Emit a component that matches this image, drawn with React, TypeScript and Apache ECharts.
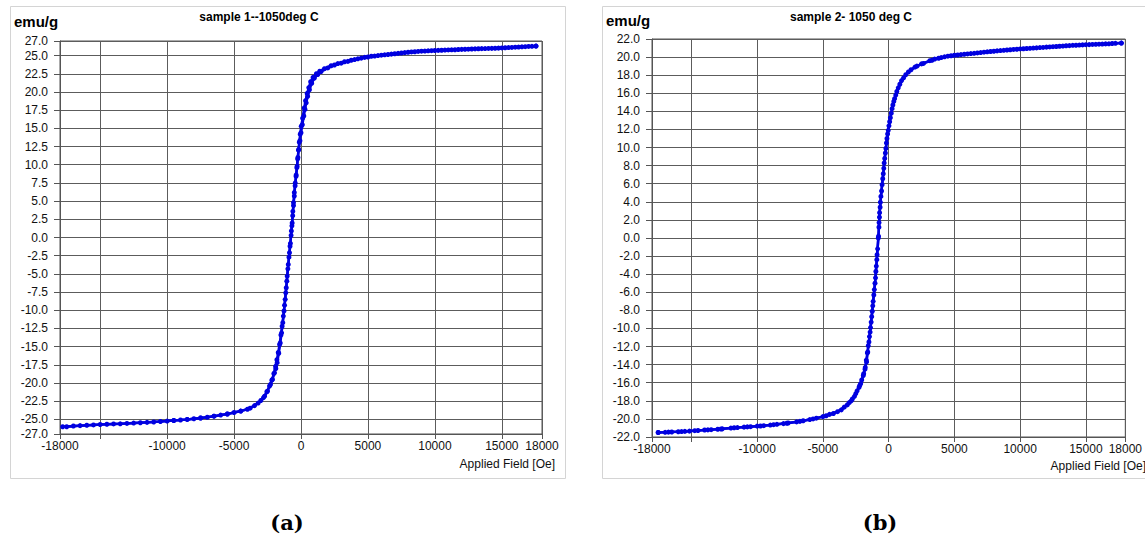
import React, { useEffect, useRef } from "react";
import * as echarts from "echarts";

// ---------- Data ----------
// Sample 1 (1050 deg C) – descending branch
const s1DownField = [17550, 17000, 16500, 16000, 15500, 15000, 14500, 14000, 13500, 13000, 12500, 12000, 11500, 11000, 10500, 10000, 9500, 9000, 8500, 8000, 7500, 7000, 6500, 6000, 5500, 5000, 4500, 4000, 3500, 3000, 2500, 2000, 1500, 1250, 1000, 800, 630, 500, 390, 300, 210, 100, 0, -80, -170, -230, -290, -360, -430, -500, -560, -610, -660, -720, -790, -860, -950, -1030, -1100, -1180, -1270, -1360, -1450, -1550, -1660, -1780, -1880, -1980, -2130, -2280, -2500, -2720, -3000, -3470, -4000, -4500, -5000, -5500, -6000, -6500, -7000, -7500, -8000, -8500, -9000, -9500, -10000, -11000, -12000, -13000, -14000, -15000, -16000, -17000, -17800];
const s1DownMoment = [26.3, 26.25, 26.2, 26.15, 26.1, 26.05, 26.0, 25.98, 25.95, 25.92, 25.88, 25.85, 25.8, 25.77, 25.73, 25.7, 25.65, 25.6, 25.52, 25.45, 25.35, 25.25, 25.15, 25.05, 24.93, 24.8, 24.65, 24.45, 24.2, 23.95, 23.7, 23.3, 22.8, 22.4, 21.9, 21.2, 20.3, 19.4, 18.5, 17.6, 16.7, 15.5, 14.4, 13.3, 12.1, 11.0, 9.8, 8.6, 7.5, 6.2, 4.8, 3.6, 2.0, 0.9, -0.8, -2.1, -3.7, -5.3, -6.9, -8.5, -10.1, -11.7, -13.1, -14.5, -15.9, -17.2, -18.0, -18.6, -19.5, -20.2, -21.1, -21.8, -22.4, -23.1, -23.6, -23.85, -24.05, -24.25, -24.4, -24.55, -24.7, -24.8, -24.9, -25.0, -25.08, -25.15, -25.22, -25.35, -25.45, -25.55, -25.62, -25.7, -25.8, -25.9, -26.0];
// Sample 1 – ascending branch
const s1UpField = [-17500, -16500, -15500, -14500, -13500, -12500, -11500, -10500, -9500, -8500, -7500, -6500, -5500, -4500, -3800, -3200, -2800, -2550, -2350, -2180, -2030, -1900, -1800, -1700, -1600, -1500, -1410, -1320, -1230, -1140, -1060, -980, -900, -820, -740, -680, -620, -560, -500, -440, -370, -310, -250, -190, -130, -60, 20, 120, 240, 340, 460, 580, 720, 900, 1150, 1400, 1750, 2250, 2750, 3250, 3750, 4250, 4750, 5250, 5750, 6250, 6750, 7250, 7750, 8250, 8750, 9250, 9750, 10250, 10750, 11250, 11750, 12250, 12750, 13250, 13750, 14250, 14750, 15250, 15750, 16250, 16750, 17250, 17550];
const s1UpMoment = [-26.0, -25.85, -25.75, -25.66, -25.6, -25.5, -25.4, -25.28, -25.15, -25.0, -24.8, -24.55, -24.25, -23.85, -23.45, -22.75, -22.0, -21.2, -20.4, -19.6, -18.7, -17.7, -16.8, -15.8, -14.7, -13.4, -12.2, -10.8, -9.3, -7.6, -6.0, -4.3, -2.7, -1.2, 0.3, 1.6, 3.0, 4.4, 5.7, 7.1, 8.4, 9.6, 10.8, 12.0, 13.1, 14.2, 15.3, 16.4, 17.8, 18.8, 19.8, 20.6, 21.4, 22.0, 22.5, 22.85, 23.2, 23.6, 23.9, 24.15, 24.35, 24.55, 24.75, 24.9, 25.0, 25.1, 25.2, 25.3, 25.4, 25.5, 25.57, 25.62, 25.67, 25.71, 25.75, 25.79, 25.83, 25.87, 25.9, 25.93, 25.96, 25.99, 26.02, 26.07, 26.12, 26.17, 26.22, 26.27, 26.3];

// Sample 2 (1050 deg C) – descending branch
const s2DownField = [17700, 17000, 16500, 16000, 15500, 15000, 14500, 14000, 13500, 13000, 12500, 12000, 11500, 11000, 10500, 10000, 9500, 9000, 8500, 8000, 7500, 7000, 6500, 6000, 5500, 5000, 4500, 4000, 3500, 3130, 2500, 2000, 1500, 1130, 850, 620, 450, 320, 200, 75, -30, -130, -210, -300, -370, -450, -540, -630, -690, -730, -770, -880, -940, -1000, -1090, -1180, -1250, -1330, -1410, -1500, -1590, -1680, -1800, -1930, -2130, -2250, -2500, -2760, -3000, -3380, -3890, -4500, -5000, -5500, -6000, -6500, -7000, -7640, -8000, -8500, -9000, -9500, -10000, -10500, -11000, -11500, -12000, -12650, -13000, -13500, -14000, -14500, -15150, -15500, -16000, -16500, -17000, -17530];
const s2DownMoment = [21.55, 21.5, 21.46, 21.43, 21.4, 21.37, 21.33, 21.3, 21.25, 21.2, 21.15, 21.1, 21.05, 21.0, 20.95, 20.9, 20.85, 20.78, 20.72, 20.65, 20.58, 20.5, 20.42, 20.35, 20.27, 20.2, 20.1, 19.95, 19.78, 19.6, 19.25, 18.9, 18.35, 17.7, 17.0, 16.2, 15.4, 14.7, 13.8, 12.85, 11.9, 11.0, 9.9, 8.8, 7.7, 6.55, 5.2, 3.95, 2.8, 1.7, 0.2, -1.85, -3.1, -4.4, -5.7, -7.0, -8.1, -9.3, -10.4, -11.5, -12.6, -13.7, -14.5, -15.2, -16.1, -16.5, -17.2, -17.8, -18.2, -18.7, -19.2, -19.5, -19.75, -19.92, -20.07, -20.2, -20.33, -20.45, -20.52, -20.6, -20.68, -20.75, -20.8, -20.86, -20.91, -20.96, -21.01, -21.1, -21.14, -21.19, -21.23, -21.28, -21.35, -21.38, -21.42, -21.45, -21.48, -21.5];
// Sample 2 – ascending branch
const s2UpField = [-17530, -16750, -15750, -14750, -13750, -12750, -11750, -10750, -9750, -8750, -7750, -6750, -5750, -4750, -4200, -3600, -3150, -2850, -2600, -2400, -2200, -2050, -1900, -1780, -1700, -1620, -1550, -1460, -1380, -1290, -1210, -1130, -1040, -970, -900, -840, -790, -740, -700, -650, -590, -500, -410, -340, -250, -170, -80, 20, 130, 260, 390, 540, 730, 980, 1300, 1700, 2150, 2650, 3300, 3800, 4250, 4750, 5250, 5750, 6250, 6750, 7250, 7750, 8250, 8750, 9250, 9750, 10250, 10750, 11250, 11750, 12250, 12750, 13250, 13750, 14250, 14750, 15250, 15750, 16250, 16750, 17250, 17700];
const s2UpMoment = [-21.5, -21.46, -21.4, -21.3, -21.21, -21.12, -20.98, -20.88, -20.78, -20.64, -20.48, -20.27, -20.0, -19.65, -19.4, -19.0, -18.45, -18.0, -17.5, -16.9, -16.3, -15.7, -15.0, -14.3, -13.5, -12.7, -11.9, -10.9, -9.9, -8.7, -7.5, -6.3, -5.0, -3.7, -2.4, -1.2, 0.0, 1.2, 2.3, 3.4, 4.6, 5.9, 7.1, 8.3, 9.4, 10.5, 11.5, 12.4, 13.3, 14.3, 15.1, 15.8, 16.6, 17.4, 18.05, 18.6, 19.0, 19.3, 19.65, 19.87, 20.03, 20.15, 20.23, 20.31, 20.39, 20.46, 20.54, 20.62, 20.69, 20.75, 20.81, 20.87, 20.92, 20.97, 21.02, 21.07, 21.12, 21.17, 21.22, 21.27, 21.31, 21.35, 21.38, 21.41, 21.44, 21.47, 21.52, 21.55];

// Axis ticks
const xGridValues = [-18000, -15000, -10000, -5000, 0, 5000, 10000, 15000, 18000];
const xLabelValues = [-18000, -10000, -5000, 0, 5000, 10000, 15000, 18000];
const y1Values = [-27, -25, -22.5, -20, -17.5, -15, -12.5, -10, -7.5, -5, -2.5, 0, 2.5, 5, 7.5, 10, 12.5, 15, 17.5, 20, 22.5, 25, 27];

const titles = ["sample 1--1050deg C", "sample 2- 1050 deg C"];
const yUnit = "emu/g";
const xName = "Applied Field [Oe]";
const panelLabels = ["(a)", "(b)"];

const pairs = (xs: number[], ys: number[]) => xs.map((x, i) => [x, ys[i]]);

const BLUE = "#0000e0";
const GRID_COLOR = "#5c5c5c";
const FONT = "Liberation Sans, Arial, sans-serif";

export default function App() {
  const ref = useRef<HTMLDivElement>(null);

  useEffect(() => {
    if (!ref.current) return;
    const chart = echarts.init(ref.current, null, { renderer: "svg" });

    const xAxisBase = (gridIndex: number) => ({
      type: "value",
      gridIndex,
      min: -18000,
      max: 18000,
      axisLine: { show: true, onZero: false, lineStyle: { color: "#555", width: 1 } },
      axisTick: { show: true, length: 5, customValues: xGridValues, lineStyle: { color: "#555" } },
      axisLabel: {
        customValues: xLabelValues,
        margin: 6,
        fontFamily: FONT,
        fontSize: 12,
        color: "#111",
        formatter: (v: number) => String(v),
      },
      splitLine: { show: true, lineStyle: { color: GRID_COLOR, width: 1 } },
    });

    const seriesStyle = {
      type: "line",
      symbol: "circle",
      symbolSize: 5,
      showSymbol: true,
      lineStyle: { color: BLUE, width: 2.5 },
      itemStyle: { color: BLUE },
      z: 5,
    };

    const option: any = {
      animation: false,
      backgroundColor: "#fff",
      grid: [
        { left: 60, top: 41, width: 482, height: 393, show: true, borderColor: "#555", borderWidth: 1, backgroundColor: "#fff" },
        { left: 652, top: 39, width: 479, height: 398, show: true, borderColor: "#555", borderWidth: 1, backgroundColor: "#fff" },
      ],
      xAxis: [xAxisBase(0), xAxisBase(1)],
      yAxis: [
        {
          type: "value",
          gridIndex: 0,
          min: -27,
          max: 27,
          axisLine: { show: true, onZero: false, lineStyle: { color: "#555" } },
          axisTick: { show: true, length: 6, customValues: y1Values, lineStyle: { color: "#555" } },
          axisLabel: {
            customValues: y1Values,
            margin: 12,
            fontFamily: FONT,
            fontSize: 12,
            color: "#111",
            formatter: (v: number) => v.toFixed(1),
          },
          splitLine: { show: true, lineStyle: { color: GRID_COLOR, width: 1 } },
        },
        {
          type: "value",
          gridIndex: 1,
          min: -22,
          max: 22,
          interval: 2,
          axisLine: { show: true, onZero: false, lineStyle: { color: "#555" } },
          axisTick: { show: true, length: 6, lineStyle: { color: "#555" } },
          axisLabel: {
            margin: 12,
            fontFamily: FONT,
            fontSize: 12,
            color: "#111",
            formatter: (v: number) => v.toFixed(1),
          },
          splitLine: { show: true, lineStyle: { color: GRID_COLOR, width: 1 } },
        },
      ],
      series: [
        { ...seriesStyle, xAxisIndex: 0, yAxisIndex: 0, data: pairs(s1DownField, s1DownMoment) },
        { ...seriesStyle, xAxisIndex: 0, yAxisIndex: 0, data: pairs(s1UpField, s1UpMoment) },
        { ...seriesStyle, xAxisIndex: 1, yAxisIndex: 1, data: pairs(s2DownField, s2DownMoment) },
        { ...seriesStyle, xAxisIndex: 1, yAxisIndex: 1, data: pairs(s2UpField, s2UpMoment) },
      ],
      graphic: [
        { type: "rect", z: -10, shape: { x: 10.5, y: 6.5, width: 555, height: 472 }, style: { fill: "#fff", stroke: "#d4d4d4", lineWidth: 1 } },
        { type: "rect", z: -10, shape: { x: 602.5, y: 6.5, width: 560, height: 472 }, style: { fill: "#fff", stroke: "#d4d4d4", lineWidth: 1 } },
        { type: "text", x: 14, y: 21, style: { text: yUnit, font: `bold 15px ${FONT}`, fill: "#000", verticalAlign: "middle" } },
        { type: "text", x: 606, y: 20, style: { text: yUnit, font: `bold 15px ${FONT}`, fill: "#000", verticalAlign: "middle" } },
        { type: "text", x: 259, y: 17, style: { text: titles[0], font: `bold 12px ${FONT}`, fill: "#000", align: "center", verticalAlign: "middle" } },
        { type: "text", x: 851, y: 17, style: { text: titles[1], font: `bold 12px ${FONT}`, fill: "#000", align: "center", verticalAlign: "middle" } },
        { type: "text", x: 555, y: 464, style: { text: xName, font: `12px ${FONT}`, fill: "#111", align: "right", verticalAlign: "middle" } },
        { type: "text", x: 1146, y: 466, style: { text: xName, font: `12px ${FONT}`, fill: "#111", align: "right", verticalAlign: "middle" } },
        { type: "text", x: 287, y: 522, style: { text: panelLabels[0], font: `bold 21px 'DejaVu Serif', serif`, fill: "#000", align: "center", verticalAlign: "middle" } },
        { type: "text", x: 880, y: 522, style: { text: panelLabels[1], font: `bold 21px 'DejaVu Serif', serif`, fill: "#000", align: "center", verticalAlign: "middle" } },
      ],
    };

    chart.setOption(option);
    return () => chart.dispose();
  }, []);

  return (
    <div
      ref={ref}
      style={{ position: "fixed", left: 0, top: 0, width: 1145, height: 537, background: "#fff" }}
    />
  );
}
